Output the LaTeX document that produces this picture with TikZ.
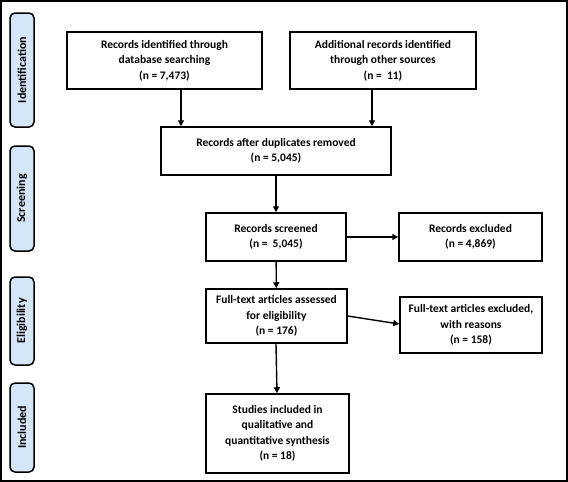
\documentclass[tikz,border=0pt]{standalone}
\usepackage{fontspec}
\setmainfont{Carlito}
\usetikzlibrary{arrows.meta}
\definecolor{sidefill}{RGB}{212,230,248}
\tikzset{
  flowbox/.style={draw=black, line width=1.5pt, fill=white, align=center, font=\bfseries\fontsize{11.5}{15.5}\selectfont, inner sep=0pt},
  sidebox/.style={draw=black, line width=1.5pt, fill=sidefill, rounded corners=5pt, inner sep=0pt},
  sidetext/.style={rotate=90, font=\bfseries\fontsize{12}{13}\selectfont},
  arr/.style={line width=1.4pt, -{Triangle[length=6pt,width=6pt]}}
}
\begin{document}
\begin{tikzpicture}[x=1pt,y=-1pt]
\useasboundingbox (0,0) rectangle (568,482);
\draw[line width=1.2pt] (1,1) rectangle (567,481);
% side labels
\node[sidebox, minimum width=24pt, minimum height=114pt] (sid) at (22,70) {};
\node[sidetext] (sidt) at (sid.center) {Identification};
\node[sidebox, minimum width=24pt, minimum height=105pt] (sscr) at (22,198.5) {};
\node[sidetext] (sscrt) at (sscr.center) {Screening};
\node[sidebox, minimum width=24pt, minimum height=88pt] (self) at (22,321) {};
\node[sidetext] (selft) at (self.center) {Eligibility};
\node[sidebox, minimum width=24pt, minimum height=89pt] (sinc) at (22,427.5) {};
\node[sidetext] (sinct) at (sinc.center) {Included};
% boxes
\node[flowbox, minimum width=195pt, minimum height=57pt] (b1) at (164.5,60.5) {Records identified through\\database searching\\(n = 7,473)};
\node[flowbox, minimum width=186pt, minimum height=57pt] (b2) at (383,60.5) {Additional records identified\\through other sources\\(n =\ \ 11)};
\node[flowbox, minimum width=230pt, minimum height=48pt] (b3) at (276,151) {Records after duplicates removed\\(n = 5,045)};
\node[flowbox, minimum width=140pt, minimum height=48pt] (b4) at (276,237) {Records screened\\(n =\ \ 5,045)};
\node[flowbox, minimum width=143pt, minimum height=48pt] (b5) at (470.5,237) {Records excluded\\(n = 4,869)};
\node[flowbox, minimum width=141pt, minimum height=54pt] (b6) at (276.5,316) {Full-text articles assessed\\for eligibility\\(n = 176)};
\node[flowbox, minimum width=142pt, minimum height=56pt] (b7) at (471,325) {Full-text articles excluded,\\with reasons\\(n = 158)};
\node[flowbox, minimum width=143pt, minimum height=79pt] (b8) at (277.5,433.5) {Studies included in\\qualitative and\\quantitative synthesis\\(n = 18)};
% arrows
\draw[arr] (b1.south -| 181,0) -- (b3.north -| 181,0);
\draw[arr] (b2.south -| 372,0) -- (b3.north -| 372,0);
\draw[arr] (b3) -- (b4);
\draw[arr] (b4) -- (b5);
\draw[arr] (b4) -- (b6);
\draw[arr] (b6.east |- 0,316) -- (b7.west |- 0,324);
\draw[arr] (b6.south -| 276,0) -- (b8.north -| 277,0);
\end{tikzpicture}
\end{document}
